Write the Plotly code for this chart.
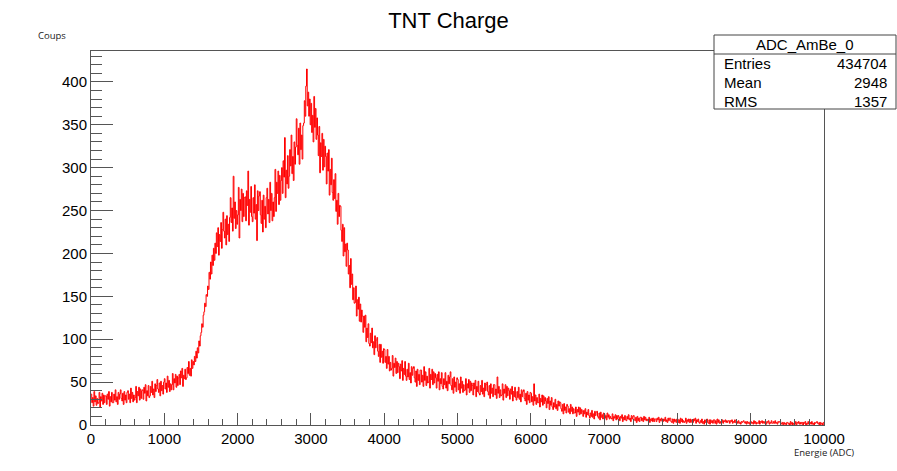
import plotly.graph_objects as go

# ---- data (counts per 10-ADC bin; one line = 100 ADC) ----
BIN_WIDTH = 10
X_MIN, X_MAX = 0, 10000
counts = [
    36, 26, 32, 22, 39, 27, 34, 23, 31, 25,
    26, 38, 21, 33, 28, 37, 24, 35, 26, 34,
    34, 24, 36, 30, 39, 22, 33, 27, 38, 26,
    26, 36, 29, 41, 27, 33, 24, 38, 30, 36,
    41, 31, 28, 37, 24, 39, 29, 35, 26, 38,
    40, 30, 36, 26, 43, 31, 38, 27, 35, 29,
    32, 45, 26, 39, 34, 44, 29, 42, 31, 40,
    41, 30, 44, 37, 47, 28, 40, 34, 46, 32,
    34, 45, 38, 51, 35, 42, 32, 48, 39, 46,
    53, 42, 38, 49, 34, 51, 40, 46, 36, 50,
    54, 42, 49, 38, 57, 44, 52, 39, 48, 41,
    47, 60, 41, 54, 49, 59, 44, 57, 46, 55,
    59, 47, 63, 55, 66, 45, 58, 54, 65, 53,
    55, 67, 60, 74, 58, 66, 57, 76, 66, 74,
    70, 80, 74, 86, 78, 90, 84, 98, 92, 104,
    108, 118, 114, 128, 132, 142, 138, 152, 150, 162,
    158, 178, 170, 190, 176, 198, 186, 206, 192, 212,
    200, 224, 208, 230, 198, 222, 214, 236, 206, 228,
    248, 226, 218, 240, 210, 244, 222, 234, 214, 242,
    265, 236, 253, 226, 290, 241, 260, 229, 250, 234,
    245, 277, 218, 263, 250, 275, 237, 270, 243, 265,
    266, 238, 273, 256, 296, 233, 263, 248, 278, 243,
    237, 265, 247, 280, 240, 257, 215, 273, 250, 267,
    272, 245, 235, 262, 225, 268, 240, 255, 230, 265,
    276, 246, 263, 236, 283, 250, 270, 238, 260, 243,
    265, 298, 249, 283, 270, 296, 257, 291, 262, 285,
    300, 270, 308, 289, 335, 265, 297, 281, 314, 276,
    290, 321, 302, 338, 293, 313, 285, 330, 304, 324,
    357, 326, 315, 346, 304, 352, 321, 338, 310, 349,
    352, 378, 360, 395, 415, 372, 388, 360, 380, 350,
    375, 341, 361, 330, 383, 347, 369, 333, 358, 338,
    314, 348, 294, 329, 313, 340, 297, 333, 301, 325,
    313, 281, 317, 296, 321, 268, 298, 280, 311, 271,
    262, 286, 264, 293, 249, 262, 234, 270, 243, 256,
    255, 227, 214, 234, 197, 230, 202, 211, 185, 212,
    204, 176, 186, 160, 194, 164, 176, 146, 160, 142,
    143, 162, 127, 146, 135, 149, 121, 141, 120, 134,
    127, 108, 127, 114, 128, 97, 113, 102, 118, 95,
    92, 107, 96, 113, 90, 97, 82, 104, 90, 99,
    102, 86, 80, 94, 73, 94, 79, 86, 72, 89,
    88, 73, 80, 66, 88, 71, 80, 63, 73, 64,
    66, 81, 57, 72, 67, 78, 60, 74, 61, 72,
    68, 54, 71, 63, 75, 52, 66, 59, 74, 57,
    52, 65, 56, 72, 53, 61, 49, 68, 58, 66,
    68, 55, 50, 63, 45, 65, 52, 59, 47, 64,
    64, 50, 58, 45, 68, 52, 62, 46, 57, 49,
    50, 66, 43, 59, 53, 65, 47, 62, 49, 60,
    55, 43, 59, 51, 62, 41, 54, 48, 61, 45,
    42, 54, 47, 61, 43, 51, 40, 58, 48, 56,
    62, 46, 41, 54, 37, 56, 44, 50, 39, 55,
    53, 41, 48, 37, 56, 43, 51, 38, 47, 40,
    41, 54, 35, 48, 43, 53, 38, 51, 40, 49,
    46, 35, 49, 42, 52, 33, 45, 39, 51, 37,
    35, 46, 39, 52, 36, 43, 33, 49, 40, 47,
    50, 39, 35, 46, 31, 48, 37, 43, 33, 47,
    47, 35, 42, 31, 56, 37, 45, 32, 41, 34,
    35, 48, 29, 42, 37, 47, 32, 45, 34, 43,
    40, 30, 42, 36, 45, 28, 39, 33, 44, 32,
    29, 39, 32, 44, 30, 36, 27, 41, 33, 39,
    41, 31, 28, 37, 24, 39, 29, 35, 26, 38,
    37, 27, 33, 23, 48, 28, 35, 24, 32, 26,
    26, 36, 21, 31, 27, 35, 23, 34, 25, 32,
    28, 20, 31, 25, 33, 18, 28, 23, 32, 21,
    18, 26, 21, 30, 19, 24, 17, 28, 22, 27,
    26, 19, 16, 24, 13, 25, 17, 21, 14, 24,
    22, 15, 19, 13, 24, 16, 21, 13, 19, 14,
    14, 21, 10, 18, 15, 21, 12, 20, 13, 18,
    16, 10, 17, 13, 19, 9, 15, 12, 18, 11,
    8, 14, 10, 17, 9, 13, 7, 16, 11, 15,
    16, 10, 8, 14, 6, 15, 9, 12, 7, 14,
    13, 8, 11, 6, 14, 9, 12, 7, 10, 8,
    7, 13, 5, 10, 8, 12, 6, 11, 7, 11,
    9, 5, 10, 8, 12, 4, 9, 6, 11, 6,
    5, 10, 7, 12, 6, 8, 4, 11, 7, 10,
    11, 6, 5, 9, 3, 10, 5, 8, 4, 9,
    9, 5, 8, 4, 10, 6, 9, 5, 7, 5,
    5, 9, 3, 7, 5, 8, 4, 8, 4, 7,
    7, 4, 8, 6, 9, 3, 7, 5, 8, 4,
    4, 7, 5, 9, 4, 6, 3, 8, 5, 8,
    8, 4, 3, 7, 2, 7, 4, 6, 3, 7,
    7, 3, 6, 2, 8, 4, 7, 3, 5, 3,
    4, 8, 2, 6, 4, 7, 3, 7, 3, 6,
    6, 3, 7, 5, 8, 2, 6, 4, 7, 3,
    2, 5, 3, 7, 2, 4, 1, 6, 3, 6,
    7, 3, 2, 6, 1, 6, 3, 5, 2, 6,
    6, 2, 5, 1, 7, 3, 6, 2, 4, 2,
    3, 6, 2, 5, 4, 6, 3, 5, 3, 5,
    5, 2, 5, 4, 6, 2, 4, 3, 6, 3,
    2, 4, 2, 5, 2, 3, 1, 4, 3, 4,
    5, 3, 2, 4, 1, 4, 2, 3, 1, 4,
    4, 2, 3, 1, 5, 2, 4, 1, 3, 2,
    2, 5, 1, 4, 3, 5, 2, 4, 2, 4,
    4, 1, 4, 3, 5, 1, 3, 2, 5, 2,
    2, 4, 2, 5, 2, 3, 1, 4, 3, 4,
    4, 2, 1, 3, 0, 3, 1, 2, 0, 3,
    3, 1, 2, 0, 4, 1, 3, 0, 2, 1,
    1, 4, 0, 3, 2, 4, 1, 3, 1, 3,
    3, 0, 3, 2, 4, 0, 2, 1, 4, 1,
    1, 3, 1, 4, 1, 2, 0, 3, 2, 3,
    4, 2, 1, 3, 0, 3, 1, 2, 0, 3,
]
stats_title = "ADC_AmBe_0"
stats_labels = ["Entries", "Mean", "RMS"]
stats_values = ["434704", "2948", "1357"]
x_ticks = [0, 1000, 2000, 3000, 4000, 5000, 6000, 7000, 8000, 9000, 10000]
y_ticks = [0, 50, 100, 150, 200, 250, 300, 350, 400]

edges = [X_MIN + i * BIN_WIDTH for i in range(len(counts) + 1)]
ys = counts + [counts[-1]]

W, H = 897, 471
L, R, T, B = 91, 824, 51, 425

def px(x):
    return (x - L) / (R - L)

def py(y):
    return (B - y) / (B - T)

FONT = "Liberation Sans, Arial, Helvetica, sans-serif"
SMALL = "Open Sans, Noto Sans, sans-serif"
AX = "#555555"

fig = go.Figure()
fig.add_trace(go.Scatter(
    x=edges, y=ys, mode="lines",
    line=dict(color="#ff0000", width=1, shape="hv"),
    hoverinfo="skip", showlegend=False,
))

fig.update_layout(
    width=W, height=H,
    margin=dict(l=L, r=W - R, t=T, b=H - B, pad=0),
    paper_bgcolor="white", plot_bgcolor="white",
    showlegend=False,
    title=dict(text="TNT Charge", x=0.5, xanchor="center", y=1 - 20 / H, yanchor="middle",
               font=dict(family=FONT, size=22, color="black")),
    font=dict(family=FONT, size=15, color="black"),
)
fig.update_xaxes(
    range=[X_MIN, X_MAX], tickvals=x_ticks, ticktext=[str(v) for v in x_ticks],
    ticks="inside", ticklen=12, tickcolor=AX, tickwidth=1,
    minor=dict(ticks="inside", dtick=200, ticklen=6, tickcolor=AX, tickwidth=1),
    showline=True, linecolor=AX, linewidth=1, mirror=True,
    showgrid=False, zeroline=False, tickfont=dict(family=FONT, size=15),
)
fig.update_yaxes(
    range=[0, 436], tickvals=y_ticks, ticktext=[str(v) for v in y_ticks],
    ticks="inside", ticklen=22, tickcolor=AX, tickwidth=1,
    minor=dict(ticks="inside", dtick=10, ticklen=11, tickcolor=AX, tickwidth=1),
    showline=True, linecolor=AX, linewidth=1, mirror=True,
    showgrid=False, zeroline=False, tickfont=dict(family=FONT, size=15),
)

# axis titles (small, placed like the original)
fig.add_annotation(text="Coups", xref="paper", yref="paper", x=px(36), y=py(35),
                   xanchor="left", yanchor="middle", showarrow=False,
                   font=dict(family=SMALL, size=9.5, color="#222"))
fig.add_annotation(text="Energie (ADC)", xref="paper", yref="paper", x=px(856), y=py(452),
                   xanchor="right", yanchor="middle", showarrow=False,
                   font=dict(family=SMALL, size=9.5, color="#222"))

# stats box
bx0, bx1, by0, by1 = 714, 896, 109, 35
fig.add_shape(type="rect", xref="paper", yref="paper",
              x0=px(bx0), x1=px(bx1), y0=py(by0), y1=py(by1),
              fillcolor="white", line=dict(color="#444", width=1), layer="above")
fig.add_shape(type="line", xref="paper", yref="paper",
              x0=px(bx0), x1=px(bx1), y0=py(54), y1=py(54),
              line=dict(color="#444", width=1), layer="above")
fig.add_annotation(text=stats_title, xref="paper", yref="paper", x=px(805), y=py(44.5),
                   xanchor="center", yanchor="middle", showarrow=False,
                   font=dict(family=FONT, size=15, color="black"))
row_y = [63, 82, 101]
for lab, val, yy in zip(stats_labels, stats_values, row_y):
    fig.add_annotation(text=lab, xref="paper", yref="paper", x=px(722), y=py(yy),
                       xanchor="left", yanchor="middle", showarrow=False,
                       font=dict(family=FONT, size=15, color="black"))
    fig.add_annotation(text=val, xref="paper", yref="paper", x=px(889), y=py(yy),
                       xanchor="right", yanchor="middle", showarrow=False,
                       font=dict(family=FONT, size=15, color="black"))

fig.write_html("out.html")
